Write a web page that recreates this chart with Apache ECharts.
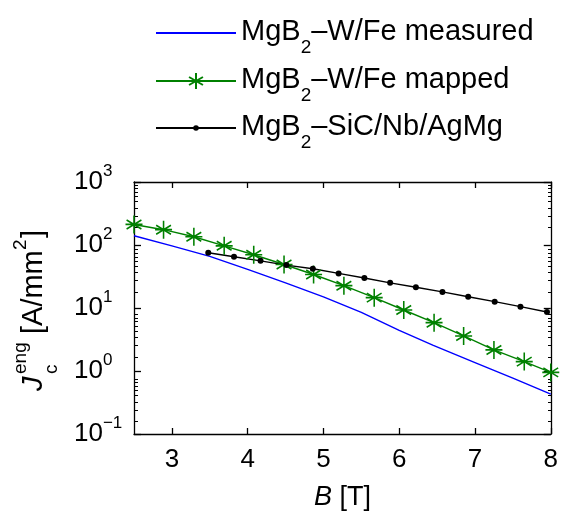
<!DOCTYPE html>
<html><head><meta charset="utf-8">
<script src="https://cdn.jsdelivr.net/npm/echarts@6/dist/echarts.min.js"></script>
<style>html,body{margin:0;padding:0;background:#fff}#c{width:561px;height:516px}</style>
</head><body><div id="c"></div>
<script>
// ---- data ----
const bMeasured = [2.5, 3.0, 3.5, 4.0, 4.5, 5.0, 5.5, 6.0, 6.45, 7.0, 7.5, 8.0];
const jMeasured = [140, 97, 66, 41, 25, 15, 8.5, 4.4, 2.55, 1.36, 0.77, 0.43];

const bMapped = [2.5, 2.89, 3.29, 3.69, 4.08, 4.48, 4.87, 5.27, 5.67, 6.06, 6.46, 6.85, 7.25, 7.65, 8.0];
const jMapped = [212, 175, 135, 97, 70, 49, 34, 22.6, 14.6, 9.3, 5.85, 3.6, 2.16, 1.41, 0.95];

const bSiC = [3.48, 3.82, 4.17, 4.51, 4.86, 5.2, 5.54, 5.88, 6.22, 6.57, 6.91, 7.26, 7.6, 7.95];
const jSiC = [75.5, 65, 56, 48, 42, 35.4, 30, 25.1, 21.3, 18, 15.1, 12.6, 10.5, 8.65];

const seriesNames = ['MgB2-W/Fe measured', 'MgB2-W/Fe mapped', 'MgB2-SiC/Nb/AgMg'];
const legendLabels = [
  ['MgB', '2', '\u2013W/Fe measured'],
  ['MgB', '2', '\u2013W/Fe mapped'],
  ['MgB', '2', '\u2013SiC/Nb/AgMg']
];
const xTickValues = [3, 4, 5, 6, 7, 8];
const yTickValues = [0.1, 1, 10, 100, 1000];
const yMinorTickValues = [0.2,0.3,0.4,0.5,0.6,0.7,0.8,0.9, 2,3,4,5,6,7,8,9, 20,30,40,50,60,70,80,90, 200,300,400,500,600,700,800,900];

// ---- chart ----
const FONT = 'Arial, "Liberation Sans", Helvetica, sans-serif';
const pairs = (xs, ys) => xs.map((x, i) => [x, ys[i]]);
const STAR = 'path://M0,-10L0,10M-8.7,-5L8.7,5M-8.7,5L8.7,-5M-10,0L10,0';

const gridBox = { left: 134, top: 182, width: 418, height: 259 };
const axisLineStyle = { color: '#000', width: 1.3 };

const chart = echarts.init(document.getElementById('c'), null, { renderer: 'canvas' });

const legendRich = {
  a: { fontSize: 29, fontFamily: FONT, color: '#000', lineHeight: 32, verticalAlign: 'top' },
  s: { fontSize: 19, fontFamily: FONT, color: '#000', lineHeight: 19, verticalAlign: 'top', padding: [21, 0, 0, 0] }
};
function legendFmt(name) {
  const p = legendLabels[seriesNames.indexOf(name)];
  return '{a|' + p[0] + '}{s|' + p[1] + '}{a|' + p[2] + '}';
}
const legendTops = [17, 65, 112];
const legendItemHeights = [14, 20, 7];
const legendSymbolOpacity = [0, 1, 1];

const option = {
  animation: false,
  backgroundColor: '#fff',
  grid: [
    Object.assign({ containLabel: false }, gridBox),
    Object.assign({ containLabel: false }, gridBox)
  ],
  legend: seriesNames.map((n, i) => ({
    data: [n],
    left: 155,
    top: legendTops[i],
    padding: 0,
    orient: 'vertical',
    itemWidth: 80,
    itemHeight: legendItemHeights[i],
    itemStyle: { opacity: legendSymbolOpacity[i] },
    lineStyle: { opacity: 1 },
    selectedMode: false,
    formatter: legendFmt,
    textStyle: { fontSize: 29, fontFamily: FONT, color: '#000', rich: legendRich }
  })),
  xAxis: [
    {
      gridIndex: 0, type: 'value', min: 2.5, max: 8, position: 'bottom',
      axisLine: { show: true, lineStyle: axisLineStyle },
      axisTick: { show: true, inside: true, length: 6, customValues: xTickValues, lineStyle: axisLineStyle },
      axisLabel: { customValues: xTickValues, fontSize: 26, fontFamily: FONT, color: '#000', margin: 13 },
      splitLine: { show: false },
      name: '{i|B} [T]', nameLocation: 'middle', nameGap: 50,
      nameTextStyle: { fontSize: 27, fontFamily: FONT, color: '#000',
        rich: { i: { fontSize: 27, fontFamily: FONT, fontStyle: 'italic', color: '#000' } } }
    },
    {
      gridIndex: 0, type: 'value', min: 2.5, max: 8, position: 'top',
      axisLine: { show: true, lineStyle: axisLineStyle },
      axisTick: { show: true, inside: true, length: 6, customValues: xTickValues, lineStyle: axisLineStyle },
      axisLabel: { show: false }, splitLine: { show: false }
    },
    { gridIndex: 1, type: 'value', min: 2.5, max: 8, show: false }
  ],
  yAxis: [
    {
      gridIndex: 0, type: 'log', logBase: 10, min: 0.1, max: 1000, position: 'left',
      axisLine: { show: true, lineStyle: axisLineStyle },
      axisTick: { show: true, inside: true, length: 7, customValues: yTickValues, lineStyle: axisLineStyle },
      axisLabel: {
        customValues: yTickValues, align: 'left', margin: 60,
        formatter: function (v) {
          const e = Math.round(Math.log10(v));
          return '{b|10}{e|' + (e < 0 ? '\u2212' + (-e) : String(e)) + '}';
        },
        rich: {
          b: { fontSize: 26, fontFamily: FONT, color: '#000', lineHeight: 38, verticalAlign: 'middle' },
          e: { fontSize: 17, fontFamily: FONT, color: '#000', lineHeight: 17, verticalAlign: 'top' }
        }
      },
      splitLine: { show: false }
    },
    {
      gridIndex: 0, type: 'log', logBase: 10, min: 0.1, max: 1000, position: 'right',
      axisLine: { show: true, lineStyle: axisLineStyle },
      axisTick: { show: true, inside: true, length: 7, customValues: yTickValues, lineStyle: axisLineStyle },
      axisLabel: { show: false }, splitLine: { show: false }
    },
    {
      gridIndex: 1, type: 'log', logBase: 10, min: 0.1, max: 1000, position: 'left',
      axisLine: { show: false },
      axisTick: { show: true, inside: true, length: 4, customValues: yMinorTickValues, lineStyle: { color: '#000', width: 1 } },
      axisLabel: { show: false }, splitLine: { show: false }
    },
    {
      gridIndex: 1, type: 'log', logBase: 10, min: 0.1, max: 1000, position: 'right',
      axisLine: { show: false },
      axisTick: { show: true, inside: true, length: 4, customValues: yMinorTickValues, lineStyle: { color: '#000', width: 1 } },
      axisLabel: { show: false }, splitLine: { show: false }
    }
  ],
  series: [
    {
      name: seriesNames[0], type: 'line', xAxisIndex: 0, yAxisIndex: 0,
      data: pairs(bMeasured, jMeasured),
      symbol: 'none', lineStyle: { color: '#0000ff', width: 1.4 }, itemStyle: { color: '#0000ff' }
    },
    {
      name: seriesNames[1], type: 'line', xAxisIndex: 0, yAxisIndex: 0,
      data: pairs(bMapped, jMapped),
      symbol: STAR, symbolSize: [17, 18], showAllSymbol: true, clip: false,
      lineStyle: { color: '#008000', width: 1.4 },
      itemStyle: { color: '#008000', borderColor: '#008000', borderWidth: 1.6 }
    },
    {
      name: seriesNames[2], type: 'line', xAxisIndex: 0, yAxisIndex: 0,
      data: pairs(bSiC, jSiC),
      symbol: 'circle', symbolSize: 6, showAllSymbol: true,
      lineStyle: { color: '#000', width: 1.4 },
      itemStyle: { color: '#000' }
    }
  ],
  graphic: [{
    type: 'group', x: 34, y: 391, rotation: Math.PI / 2,
    children: [
      { type: 'text', x: 0, y: 0, style: { text: 'J', fontSize: 29, fontStyle: 'italic', fontFamily: FONT, fill: '#000', align: 'left', verticalAlign: 'middle' } },
      { type: 'text', x: 17, y: -13, style: { text: 'eng', fontSize: 19, fontFamily: FONT, fill: '#000', align: 'left', verticalAlign: 'middle' } },
      { type: 'text', x: 17, y: 18, style: { text: 'c', fontSize: 19, fontFamily: FONT, fill: '#000', align: 'left', verticalAlign: 'middle' } },
      { type: 'text', x: 57, y: 0, style: { text: '[A/mm', fontSize: 29, fontFamily: FONT, fill: '#000', align: 'left', verticalAlign: 'middle' } },
      { type: 'text', x: 141, y: -13, style: { text: '2', fontSize: 19, fontFamily: FONT, fill: '#000', align: 'left', verticalAlign: 'middle' } },
      { type: 'text', x: 153, y: 0, style: { text: ']', fontSize: 29, fontFamily: FONT, fill: '#000', align: 'left', verticalAlign: 'middle' } }
    ]
  }]
};
chart.setOption(option);
</script>
</body></html>
